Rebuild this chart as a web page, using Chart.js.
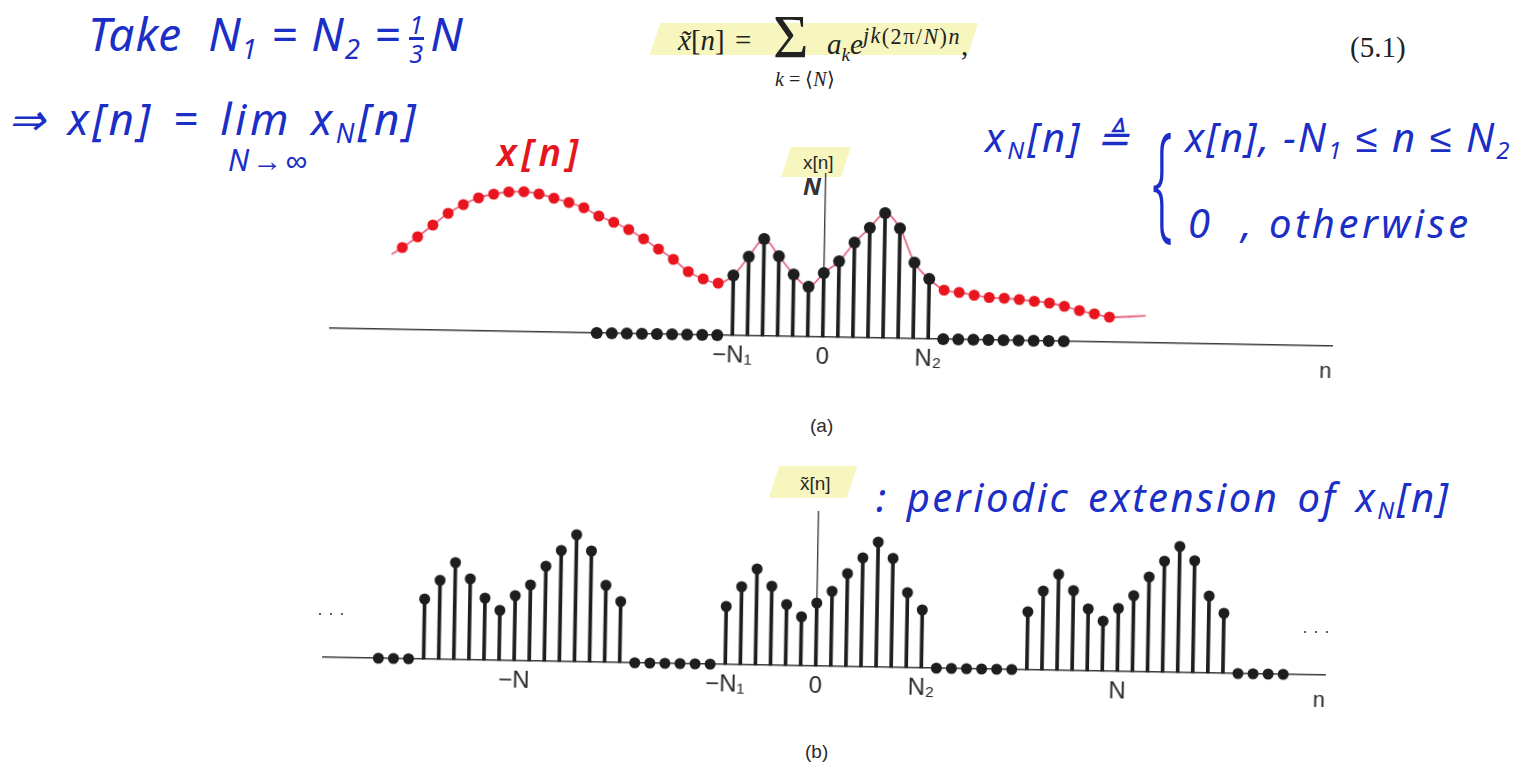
<!DOCTYPE html>
<html>
<head>
<meta charset="utf-8">
<script src="https://cdn.jsdelivr.net/npm/chart.js@4.4.1/dist/chart.umd.min.js"></script>
<style>
  html, body { margin: 0; padding: 0; background: #fff; }
  #page { position: relative; width: 1531px; height: 768px; overflow: hidden; background: #fff; }
  .panel { position: absolute; }
  .panel canvas { display: block; }
  .hw { position: absolute; color: #1b2ec6; font-family: "Noto Sans", sans-serif; font-style: italic; font-weight: 400; white-space: nowrap; line-height: 1; }
  .hw sub { font-size: 0.6em; vertical-align: -0.3em; }
  .lbl { position: absolute; font-family: "Liberation Sans", Arial, sans-serif; color: #2a2a2a; white-space: nowrap; line-height: 1; }
  .mark { position: absolute; background: rgba(238, 234, 110, 0.45); transform: skewX(-18deg); }
  .serif { position: absolute; font-family: "Liberation Serif", "Times New Roman", serif; color: #222; white-space: nowrap; line-height: 1; }
  .serif sub { font-size: 0.66em; }
  .serif sup { font-size: 0.76em; letter-spacing: 1.5px; }
  .frac { display: inline-block; vertical-align: middle; text-align: center; font-size: 0.55em; line-height: 1.05; margin: 0 6px 0 8px; }
  .frac span { display: block; }
  .frac .den { border-top: 3px solid #1b2ec6; }
</style>
</head>
<body>
<div id="page">
  <!-- equation -->
  <div class="mark" style="left:655px;top:23px;width:318px;height:32px;"></div>
  <div class="serif" style="left:678px;top:25.7px;font-size:29px;"><i>x&#771;</i>[<i>n</i>]</div>
  <div class="serif" style="left:735px;top:25.7px;font-size:29px;">=</div>
  <div class="serif" style="left:773px;top:6px;font-size:61px;">&Sigma;</div>
  <div class="serif" style="left:775px;top:69px;font-size:20px;"><i>k</i> = &#10216;<i>N</i>&#10217;</div>
  <div class="serif" style="left:827px;top:25.7px;font-size:29px;"><i>a<sub>k</sub>e<sup>jk</sup></i><sup>(2&pi;/<i>N</i>)<i>n</i></sup>,</div>
  <div class="serif" style="left:1350px;top:33px;font-size:29px;">(5.1)</div>

  <!-- handwritten notes -->
  <div class="hw" style="left:88px;top:10px;font-size:46px;letter-spacing:1px;">Take&nbsp; N<sub>1</sub> = N<sub>2</sub> =<span class="frac"><span>1</span><span class="den">3</span></span>N</div>
  <div class="hw" style="left:8px;top:96px;font-size:44px;letter-spacing:3.5px;word-spacing:4px;">&rArr; x[n] = lim x<sub>N</sub>[n]</div>
  <div class="hw" style="left:228px;top:145px;font-size:30px;letter-spacing:3px;">N&rarr;&infin;</div>
  <div class="hw" style="left:497px;top:132px;font-size:38px;color:#e3161e;font-weight:600;letter-spacing:5px;">x[n]</div>
  <div class="hw" style="left:985px;top:117px;font-size:40px;letter-spacing:3px;">x<sub>N</sub>[n] &#8796;</div>
  <div class="hw" style="left:1152px;top:112px;font-size:128px;font-style:normal;font-weight:300;transform:scaleX(0.45);transform-origin:left top;">{</div>
  <div class="hw" style="left:1185px;top:117px;font-size:40px;letter-spacing:2px;">x[n], &minus;N<sub>1</sub> &le; n &le; N<sub>2</sub></div>
  <div class="hw" style="left:1188px;top:203px;font-size:40px;letter-spacing:3.5px;">0&nbsp; , otherwise</div>
  <div class="hw" style="left:876px;top:477px;font-size:40px;letter-spacing:2.5px;word-spacing:5px;">: periodic extension of x<sub>N</sub>[n]</div>
  <div class="hw" style="left:803px;top:174px;font-size:24px;color:#333;font-weight:700;">N</div>

  <!-- panel (a) -->
  <div class="mark" style="left:786px;top:147px;width:60px;height:30px;"></div>
  <div class="lbl" style="left:803px;top:153px;font-size:19px;">x[n]</div>
  <div class="panel" id="panelA" style="left:324px;top:162.5px;width:1014px;height:214px;transform:rotate(1.02deg);transform-origin:498.6px 174px;">
    <canvas id="chartA" width="1014" height="214"></canvas>
  </div>
  <div class="lbl" style="left:810px;top:416px;font-size:19px;">(a)</div>

  <!-- panel (b) -->
  <div class="mark" style="left:774px;top:466px;width:78px;height:32px;"></div>
  <div class="lbl" style="left:800px;top:474px;font-size:19px;">x&#771;[n]</div>
  <div class="panel" id="panelB" style="left:317.4px;top:501.4px;width:1014px;height:205px;transform:rotate(1.02deg);transform-origin:498.6px 165px;">
    <canvas id="chartB" width="1014" height="205"></canvas>
  </div>
  <div class="lbl" style="left:317px;top:604px;font-size:18px;color:#444;">&middot; &middot; &middot;</div>
  <div class="lbl" style="left:1302px;top:622px;font-size:18px;color:#444;">&middot; &middot; &middot;</div>
  <div class="lbl" style="left:805px;top:742px;font-size:19px;">(b)</div>
</div>

<script>
// n range shown on both axes
const nMin = -32.7;
const nMax = 33.8;

// (a) x_N[n], starting at n = -15
const xNStart = -15;
const xNVals = [0, 0, 0, 0, 0, 0, 0, 0, 0,
  60, 79, 97, 80, 62, 50, 64, 76, 95, 110, 125, 110, 76, 60,
  0, 0, 0, 0, 0, 0, 0, 0, 0];

// (a) hand-drawn x[n] envelope
const curveN = [-28.7, -28, -27, -26, -25, -24, -23, -22, -21, -20, -19, -18, -17, -16, -15, -14,
  -13, -12, -11, -10, -9, -8, -7, -6, -5, -4, -3, -2, -1, 0, 1, 2, 3, 4, 5, 6, 7,
  8, 9, 10, 11, 12, 13, 14, 15, 16, 17, 18, 19, 20, 21, 21.4];
const curveVals = [75, 82, 93, 105, 117, 126, 133, 137, 139.5, 140, 138, 134, 130, 125, 117, 111,
  104, 95, 85, 75, 63, 56, 52, 60, 79, 97, 80, 62, 50, 64, 76, 95, 110, 125, 110, 76, 60,
  49, 47, 44.5, 42.5, 42, 41, 39.5, 38, 35, 31, 28, 25, 25.5, 26.5, 27];
const redDotN = [-28, -27, -26, -25, -24, -23, -22, -21, -20, -19, -18, -17, -16, -15, -14,
  -13, -12, -11, -10, -9, -8, -7, 8, 9, 10, 11, 12, 13, 14, 15, 16, 17, 18, 19];

const ticksA = [-6, 0, 7];
const tickTextA = ["\u2212N\u2081", "0", "N\u2082"];

// (b) periodic extension, starting at n = -29
const xTildeStart = -29;
const xTildeVals = [0, 0, 0,
  60, 79, 97, 81, 62, 50, 65, 76, 95, 111, 127, 111, 77, 61,
  0, 0, 0, 0, 0, 0,
  58, 78, 96, 79, 61, 49, 63, 75, 93, 109, 125, 109, 75, 58,
  0, 0, 0, 0, 0, 0,
  58, 79, 96, 80, 62, 50, 63, 76, 95, 111, 126, 112, 77, 60,
  0, 0, 0, 0];

const ticksB = [-20, -6, 0, 7, 20];
const tickTextB = ["\u2212N", "\u2212N\u2081", "0", "N\u2082", "N"];

// vertical x[n] axis at n = 0
const vAxis = {
  id: "vAxis",
  beforeDatasetsDraw(chart) {
    const { ctx, scales } = chart;
    const px = scales.x.getPixelForValue(0);
    ctx.save();
    ctx.strokeStyle = "#333";
    ctx.lineWidth = 1.3;
    ctx.beginPath();
    ctx.moveTo(px, scales.y.getPixelForValue(0));
    ctx.lineTo(px, scales.y.getPixelForValue(scales.y.max));
    ctx.stroke();
    ctx.restore();
  },
};

function stemChart(canvas, o) {
  const pts = o.vals.map((v, i) => ({ x: o.start + i, y: v }));
  const datasets = [
    { type: "scatter", data: pts, pointRadius: o.dot, pointHoverRadius: o.dot,
      backgroundColor: "#1e1e1e", borderWidth: 0, order: 0, clip: false },
    { type: "bar", data: pts.filter((p) => p.y > 0), backgroundColor: "#1e1e1e",
      barThickness: o.stemW, order: 1, clip: false },
  ];
  if (o.curveN) {
    datasets.push({
      type: "line", showLine: true,
      data: o.curveN.map((n, i) => ({ x: n, y: o.curveVals[i] })),
      borderColor: "#e66a84", borderWidth: 1.8, cubicInterpolationMode: "monotone",
      pointRadius: (c) => (o.redDots.includes(c.raw.x) ? 5.5 : 0),
      pointBackgroundColor: "#e8141e", pointBorderWidth: 0, order: 3, clip: false,
    });
  }
  const font = { family: "'Liberation Sans', Arial, sans-serif", size: 24 };
  return new Chart(canvas, {
    type: "scatter",
    data: { datasets },
    options: {
      responsive: false,
      animation: false,
      devicePixelRatio: 1,
      events: [],
      layout: { padding: { top: 10, left: 0, right: 0, bottom: 0 } },
      plugins: { legend: { display: false }, tooltip: { enabled: false } },
      scales: {
        x: {
          type: "linear", min: nMin, max: nMax, offset: false,
          grid: { display: false, drawTicks: false },
          border: { display: true, color: "#3a3a3a", width: 1.5 },
          afterBuildTicks: (s) => { s.ticks = o.ticks.map((v) => ({ value: v })); },
          afterFit: (s) => { s.height = 40; },
          ticks: { autoSkip: false, maxRotation: 0, padding: 6, color: "#2a2a2a", font,
            callback: (v, i) => o.tickText[i] },
          title: { display: true, text: "n", align: "end", color: "#2a2a2a",
            font: { family: font.family, size: 22 }, padding: { top: 0, bottom: 1 } },
        },
        y: { type: "linear", display: false, min: 0, max: o.yMax },
      },
    },
    plugins: [vAxis],
  });
}

stemChart(document.getElementById("chartA"), {
  start: xNStart, vals: xNVals, ticks: ticksA, tickText: tickTextA,
  curveN, curveVals, redDots: redDotN, yMax: 164, dot: 6, stemW: 3,
});

stemChart(document.getElementById("chartB"), {
  start: xTildeStart, vals: xTildeVals, ticks: ticksB, tickText: tickTextB,
  yMax: 155, dot: 5.5, stemW: 3,
});
</script>
</body>
</html>
